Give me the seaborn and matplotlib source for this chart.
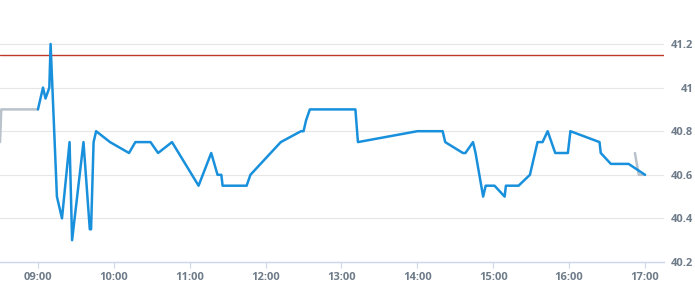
import matplotlib
matplotlib.use("Agg")
import matplotlib.pyplot as plt
import seaborn as sns
import pandas as pd

# ---- data ----
pre_times = ["08:30", "08:31", "09:00"]
pre_values = [40.75, 40.9, 40.9]

main_times = ["09:00", "09:04", "09:06", "09:09", "09:10", "09:15", "09:19", "09:25", "09:27",
              "09:36", "09:41", "09:42", "09:44", "09:46", "09:57", "10:12", "10:17", "10:29",
              "10:35", "10:46", "11:07", "11:17", "11:22", "11:25", "11:26", "11:45", "11:48",
              "12:12", "12:28", "12:30", "12:32", "12:35", "13:11", "13:13", "14:00", "14:20",
              "14:22", "14:36", "14:38", "14:44", "14:46", "14:52", "14:54", "15:01", "15:09",
              "15:10", "15:20", "15:29", "15:33", "15:35", "15:39", "15:43", "15:49", "15:59",
              "16:01", "16:24", "16:25", "16:33", "16:47", "17:00"]
main_values = [40.9, 41.0, 40.95, 41.0, 41.2, 40.5, 40.4, 40.75, 40.3,
               40.75, 40.35, 40.35, 40.75, 40.8, 40.75, 40.7, 40.75, 40.75,
               40.7, 40.75, 40.55, 40.7, 40.6, 40.6, 40.55, 40.55, 40.6,
               40.75, 40.8, 40.8, 40.85, 40.9, 40.9, 40.75, 40.8, 40.8,
               40.75, 40.7, 40.7, 40.75, 40.7, 40.5, 40.55, 40.55, 40.5,
               40.55, 40.55, 40.6, 40.7, 40.75, 40.75, 40.8, 40.7, 40.7,
               40.8, 40.75, 40.7, 40.65, 40.65, 40.6]

post_times = ["16:52", "16:55", "17:00"]
post_values = [40.7, 40.6, 40.6]

reference_level = 41.15

x_tick_labels = ["09:00", "10:00", "11:00", "12:00", "13:00", "14:00", "15:00", "16:00", "17:00"]
y_ticks = [40.2, 40.4, 40.6, 40.8, 41.0, 41.2]
y_tick_labels = ["40.2", "40.4", "40.6", "40.8", "41", "41.2"]


def to_hours(ts):
    out = []
    for t in ts:
        h, m = t.split(":")
        out.append(int(h) + int(m) / 60.0)
    return out


pre_df = pd.DataFrame({"t": to_hours(pre_times), "v": pre_values})
main_df = pd.DataFrame({"t": to_hours(main_times), "v": main_values})
post_df = pd.DataFrame({"t": to_hours(post_times), "v": post_values})

sns.set_theme(style="white")
plt.rcParams["font.family"] = ["Open Sans", "DejaVu Sans"]

fig = plt.figure(figsize=(6.95, 3.0), dpi=100)
ax = fig.add_axes([0.0, 1 - 262 / 300, 664 / 695, 262 / 300])

BLUE = "#1890dc"
GRAY = "#b9c2ca"
LABEL = "#6e7b89"

sns.lineplot(data=pre_df, x="t", y="v", ax=ax, color=GRAY, linewidth=1.8, sort=False, zorder=3)
sns.lineplot(data=main_df, x="t", y="v", ax=ax, color=BLUE, linewidth=1.8, sort=False, zorder=4)
sns.lineplot(data=post_df, x="t", y="v", ax=ax, color=GRAY, linewidth=1.8, sort=False, zorder=3)

ax.axhline(reference_level, color="#c0392b", linewidth=1.0, zorder=2)

ax.set_xlim(8.5, 17.25)
ax.set_ylim(40.2, 41.2 + 44 / 218)

ax.set_yticks(y_ticks)
ax.set_yticklabels(y_tick_labels)
ax.yaxis.set_ticks_position("right")
ax.tick_params(axis="y", length=0, pad=21, labelsize=8, labelcolor=LABEL)
for lab in ax.get_yticklabels():
    lab.set_horizontalalignment("right")
    lab.set_fontweight("bold")

ax.set_xticks(to_hours(x_tick_labels))
ax.set_xticklabels(x_tick_labels)
ax.tick_params(axis="x", length=4, width=0.8, color="#ccd6eb", pad=3, labelsize=8, labelcolor=LABEL,
               bottom=True)
for lab in ax.get_xticklabels():
    lab.set_fontweight("bold")

for y in y_ticks[1:]:
    ax.axhline(y, color="#e6e6e6", linewidth=0.8, zorder=1)

for s in ["top", "left", "right"]:
    ax.spines[s].set_visible(False)
ax.spines["bottom"].set_color("#ccd6eb")
ax.spines["bottom"].set_linewidth(1.0)

ax.set_xlabel("")
ax.set_ylabel("")
ax.grid(False)

fig.savefig("out.png", dpi=100)
